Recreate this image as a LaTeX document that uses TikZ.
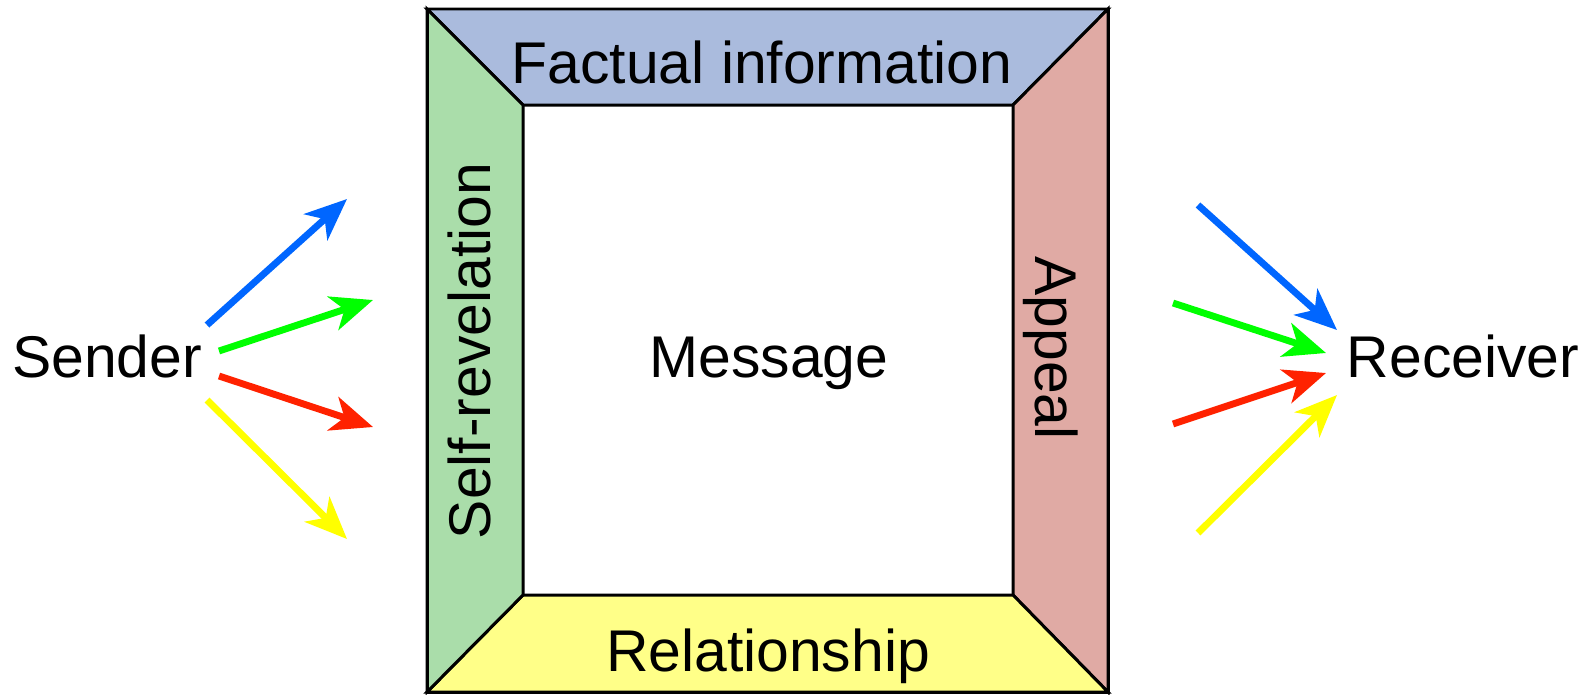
\documentclass[tikz,border=0pt]{standalone}
\usepackage{fontspec}
\setmainfont{Liberation Sans}
\usepackage{tikz}
\usetikzlibrary{calc,arrows.meta,positioning}
\definecolor{factual}{RGB}{170,187,221}
\definecolor{selfrev}{RGB}{170,221,170}
\definecolor{appeal}{RGB}{224,170,164}
\definecolor{relation}{RGB}{255,255,136}
\definecolor{arblue}{RGB}{0,102,255}
\definecolor{argreen}{RGB}{0,255,0}
\definecolor{arred}{RGB}{255,34,0}
\definecolor{aryellow}{RGB}{255,255,0}
\tikzset{band/.style={draw=black, line width=1.7pt, line join=miter},
  word/.style={font=\fontsize{33.5}{40}\selectfont, inner sep=0, anchor=base},
  flow/.style={line width=3.9pt, -{Stealth[length=0.84cm, width=0.7cm, inset=0.24cm]}}}

\begin{document}
\begin{tikzpicture}[x=0.02cm, y=-0.02cm]
\useasboundingbox (0,0) rectangle (1591,694);

% outer and inner corners of the frame
\coordinate (NW) at (427,9);
\coordinate (NE) at (1108,9);
\coordinate (SE) at (1108,692);
\coordinate (SW) at (427,692);
\coordinate (nw) at (523,105);
\coordinate (ne) at (1013,105);
\coordinate (se) at (1013,595);
\coordinate (sw) at (523,595);

\filldraw[band, fill=factual] (NW) -- (NE) -- (ne) -- (nw) -- cycle;
\filldraw[band, fill=appeal] (NE) -- (SE) -- (se) -- (ne) -- cycle;
\filldraw[band, fill=relation] (SE) -- (SW) -- (sw) -- (se) -- cycle;
\filldraw[band, fill=selfrev] (SW) -- (NW) -- (nw) -- (sw) -- cycle;
\draw[band] (NW) rectangle (SE);

\node[word] (fact) at (762,83) {Factual information};
\node[word] (rel) at (768,671) {Relationship};
\node[word, rotate=90] (self) at (490,351) {Self-revelation};
\node[word, rotate=-90] (app) at (1035,348) {Appeal};
\node[word] (msg) at (769,377) {Message};

\node[word] (send) at (107,377) {Sender};
\node[word] (recv) at (1463,377) {Receiver};

% sender side
\coordinate (s1) at (207,325);
\coordinate (s2) at (219,351);
\coordinate (s3) at (219,376);
\coordinate (s4) at (207,400);
\coordinate (t1) at (347,199);
\coordinate (t2) at (373,300);
\coordinate (t3) at (373,427);
\coordinate (t4) at (347,539);
\draw[flow, arblue] (s1) -- (t1);
\draw[flow, argreen] (s2) -- (t2);
\draw[flow, arred] (s3) -- (t3);
\draw[flow, aryellow] (s4) -- (t4);

% receiver side
\coordinate (r1) at (1198,205);
\coordinate (r2) at (1173,303);
\coordinate (r3) at (1173,424);
\coordinate (r4) at (1198,533);
\coordinate (u1) at (1337,330);
\coordinate (u2) at (1326,353);
\coordinate (u3) at (1326,373);
\coordinate (u4) at (1337,395);
\draw[flow, arblue] (r1) -- (u1);
\draw[flow, argreen] (r2) -- (u2);
\draw[flow, arred] (r3) -- (u3);
\draw[flow, aryellow] (r4) -- (u4);

\end{tikzpicture}
\end{document}
